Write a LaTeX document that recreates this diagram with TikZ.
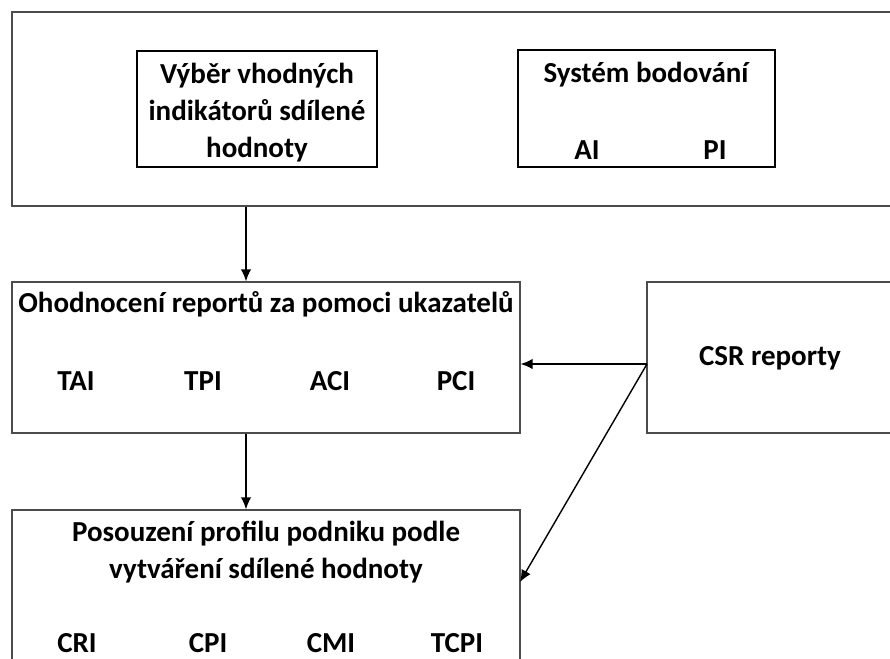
\documentclass[tikz,border=0pt]{standalone}
\usepackage{fontspec}
\setmainfont{Carlito}
\usetikzlibrary{arrows.meta,positioning}

\begin{document}
\begin{tikzpicture}[
x=0.02cm,
y=-0.02cm,
every node/.style={font=\bfseries\fontsize{16.5}{21}\selectfont},
frame/.style={rectangle,draw=black!70,line width=0.8pt,inner sep=0pt},
pick/.style={rectangle,draw=black,line width=1.6pt,inner sep=0pt,align=center},
txt/.style={inner sep=0pt,align=center},
arr/.style={-{Latex[length=2.4mm,width=2.1mm]},line width=0.8pt}
]
\clip (0,0) rectangle (890,659);
\node[frame,minimum width=17.96cm,minimum height=3.88cm] (scoring) at (461,109) {};
\node[pick,minimum width=4.8cm,minimum height=2.32cm] (choice) at (257,109) {};
\node[txt] (choicetxt) at (257,113) {Výběr vhodných\\indikátorů sdílené\\hodnoty};
\node[pick,minimum width=5.14cm,minimum height=2.34cm] (points) at (646.5,108.5) {};
\node[txt] (pointstxt) at (646,75) {Systém bodování};
\node[txt] (ai) at (587,150) {AI};
\node[txt] (pi) at (715,150) {PI};

\node[frame,minimum width=10.16cm,minimum height=3.02cm] (rating) at (266,357.5) {};
\node[txt] (ratingtxt) at (266,304) {Ohodnocení reportů za pomoci ukazatelů};
\node[txt] (tai) at (76,381) {TAI};
\node[txt] (tpi) at (203,381) {TPI};
\node[txt] (aci) at (330,381) {ACI};
\node[txt] (pci) at (456,381) {PCI};

\node[frame,minimum width=5.26cm,minimum height=3.02cm] (csr) at (778.5,357.5) {};
\node[txt] (csrtxt) at (770,358) {CSR reporty};

\node[frame,minimum width=10.16cm,minimum height=3.8cm] (profile) at (266,605) {};
\node[txt] (profiletxt) at (266,552) {Posouzení profilu podniku podle\\vytváření sdílené hodnoty};
\node[txt] (cri) at (77,643) {CRI};
\node[txt] (cpi) at (208,643) {CPI};
\node[txt] (cmi) at (331,643) {CMI};
\node[txt] (tcpi) at (457,643) {TCPI};

\coordinate (downx) at (246,0);
\coordinate (csrout) at (647,364);
\coordinate (profilein) at (520,582);

\draw[arr] (scoring.south -| downx) -- (rating.north -| downx);
\draw[arr] (rating.south -| downx) -- (profile.north -| downx);
\draw[arr] (csrout) -- (csrout -| rating.east);
\draw[arr] (csrout) -- (profilein);
\end{tikzpicture}
\end{document}
